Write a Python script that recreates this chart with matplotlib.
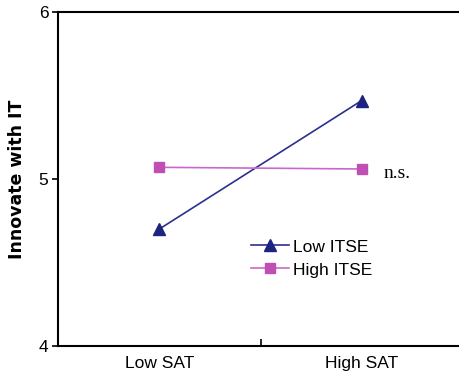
import matplotlib.pyplot as plt

plt.rcParams['font.family'] = ['Liberation Sans', 'DejaVu Sans']

categories = ['Low SAT', 'High SAT']
low_itse = [4.70, 5.47]
high_itse = [5.07, 5.06]

fig = plt.figure(figsize=(4.59, 3.78), dpi=100)
ax = fig.add_axes([58 / 459, 32 / 378, 405 / 459, 334 / 378])

x = [0.5, 1.5]
ax.plot(x, low_itse, color='#2b2f8f', linewidth=1.2, marker='^',
        markersize=8, markerfacecolor='#1c2380', markeredgecolor='#1c2380',
        label='Low ITSE')
ax.plot(x, high_itse, color='#cc66cc', linewidth=1.2, marker='s',
        markersize=7, markerfacecolor='#c04fb4', markeredgecolor='#c04fb4',
        label='High ITSE')

ax.text(1.61, high_itse[1] - 0.03, 'n.s.', family='Liberation Serif', fontsize=14,
        va='center', ha='left')

ax.set_xlim(0, 2)
ax.set_ylim(4, 6)
ax.set_yticks([4, 5, 6])
ax.set_xticks([1])
ax.set_xticklabels([''])
ax.tick_params(axis='y', direction='out', length=4, width=1.2, labelsize=12.5, pad=3)
ax.tick_params(axis='x', direction='in', length=5, width=1.2)
for i, c in enumerate(categories):
    ax.text(x[i], -0.03, c, transform=ax.get_xaxis_transform(),
            ha='center', va='top', fontsize=12.5)

ax.set_ylabel('Innovate with IT', family='DejaVu Sans', fontsize=12.5,
              fontweight='bold', labelpad=9)
for s in ax.spines.values():
    s.set_linewidth(1.5)

ax.legend(loc='upper left', bbox_to_anchor=(0.46, 0.34), frameon=False,
          fontsize=12.5, handlelength=2.2, handletextpad=0.2, labelspacing=0.45,
          borderaxespad=0)

fig.savefig('out.png', dpi=100)
